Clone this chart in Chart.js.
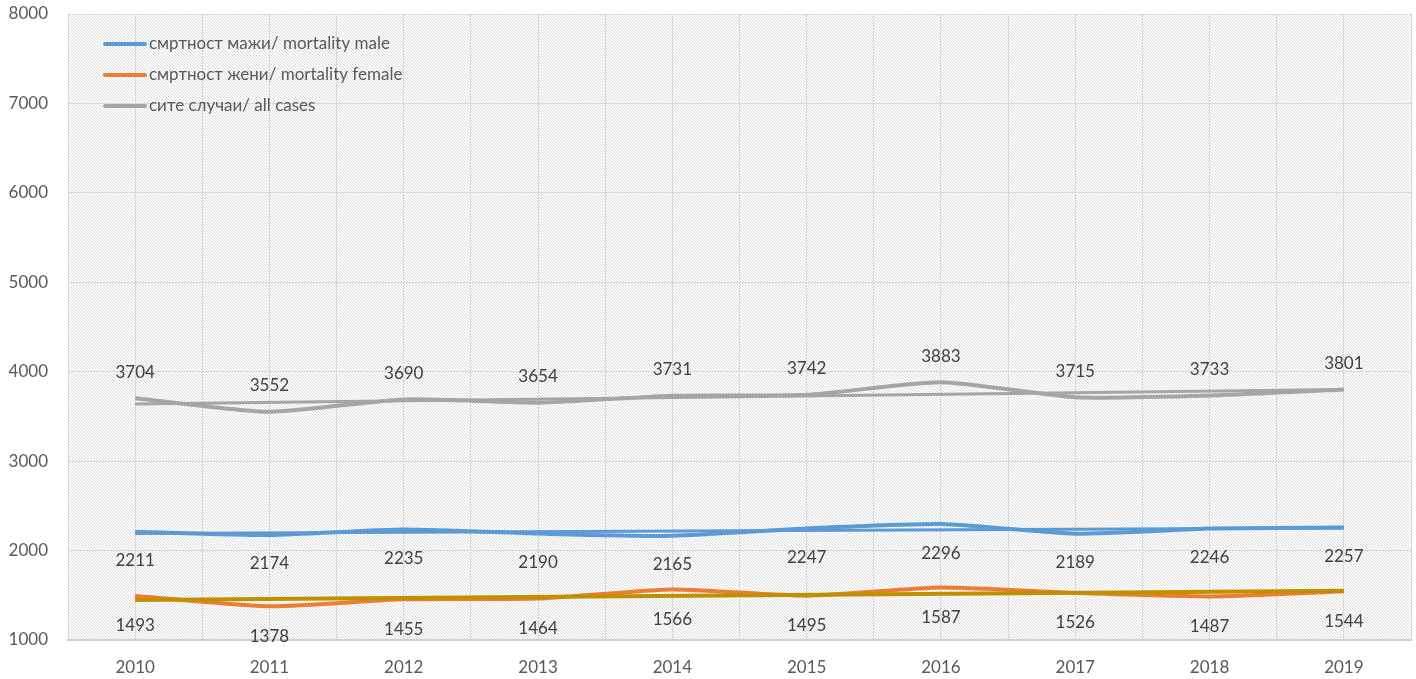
<!DOCTYPE html>
<html>
<head>
<meta charset="utf-8">
<script src="https://cdn.jsdelivr.net/npm/chart.js@4"></script>
<style>
html,body{margin:0;padding:0;background:#fff;}
canvas{display:block;}
</style>
</head>
<body>
<canvas id="c" width="1416" height="679"></canvas>
<script>
const years = [2010, 2011, 2012, 2013, 2014, 2015, 2016, 2017, 2018, 2019];
const male = [2211, 2174, 2235, 2190, 2165, 2247, 2296, 2189, 2246, 2257];
const female = [1493, 1378, 1455, 1464, 1566, 1495, 1587, 1526, 1487, 1544];
const allCases = [3704, 3552, 3690, 3654, 3731, 3742, 3883, 3715, 3733, 3801];
// linear trendlines: estimated values at first and last year
const maleTrend = [2191, 2251];
const femaleTrend = [1448, 1551];
const allTrend = [3640, 3801];
const yTicks = [1000, 2000, 3000, 4000, 5000, 6000, 7000, 8000];
const names = ['смртност мажи/ mortality male', 'смртност жени/ mortality female', 'сите случаи/ all cases'];

const pts = arr => arr.map((v, i) => ({x: years[i], y: v}));
const trendPts = t => [{x: years[0], y: t[0]}, {x: years[years.length - 1], y: t[1]}];

// hatched background pattern
function makePattern(ctx) {
  const p = document.createElement('canvas');
  p.width = 6; p.height = 6;
  const g = p.getContext('2d');
  g.fillStyle = '#ffffff';
  g.fillRect(0, 0, 6, 6);
  g.fillStyle = '#d8d8d8';
  for (let i = 0; i < 6; i++) {
    g.fillRect(i, i, 1, 1);
    g.fillRect(i, (i + 3) % 6, 1, 1);
  }
  return ctx.createPattern(p, 'repeat');
}

const bgPlugin = {
  id: 'bg',
  beforeDatasetsDraw(chart) {
    const {ctx, chartArea: a} = chart;
    ctx.save();
    ctx.fillStyle = makePattern(ctx);
    ctx.globalCompositeOperation = 'destination-over';
    ctx.fillRect(a.left, a.top, a.right - a.left, a.bottom - a.top);
    ctx.restore();
  }
};

const labelPlugin = {
  id: 'vlabels',
  afterDatasetsDraw(chart, args, opts) {
    const {ctx} = chart;
    ctx.save();
    ctx.font = '17px Lato, "Noto Sans", sans-serif';
    ctx.fillStyle = '#404040';
    ctx.textAlign = 'center';
    ctx.textBaseline = 'middle';
    opts.sets.forEach(s => {
      const meta = chart.getDatasetMeta(s.index);
      const data = chart.data.datasets[s.index].data;
      meta.data.forEach((el, i) => {
        ctx.fillText(String(data[i].y), el.x, el.y + s.offset);
      });
    });
    ctx.restore();
  }
};

const legendPlugin = {
  id: 'inlegend',
  afterDraw(chart, args, opts) {
    const {ctx, chartArea: a} = chart;
    ctx.save();
    ctx.font = '17px Lato, "Noto Sans", sans-serif';
    ctx.textBaseline = 'middle';
    opts.items.forEach((it, i) => {
      const y = a.top + 30 + i * 31;
      const x0 = a.left + 37;
      ctx.strokeStyle = it.color;
      ctx.lineWidth = 4;
      ctx.lineCap = 'round';
      ctx.beginPath();
      ctx.moveTo(x0, y);
      ctx.lineTo(x0 + 40, y);
      ctx.stroke();
      ctx.fillStyle = '#595959';
      ctx.fillText(it.text, x0 + 44, y);
    });
    ctx.restore();
  }
};

const blue = '#5B9BD5', orange = '#ED7D31', gray = '#A5A5A5';

new Chart(document.getElementById('c'), {
  type: 'line',
  data: {
    datasets: [
      {label: names[0] + ' trend', data: trendPts(maleTrend), borderColor: blue, borderWidth: 3, pointRadius: 0, tension: 0},
      {label: names[1] + ' trend', data: trendPts(femaleTrend), borderColor: '#BF9000', borderWidth: 4, pointRadius: 0, tension: 0},
      {label: names[2] + ' trend', data: trendPts(allTrend), borderColor: gray, borderWidth: 3, pointRadius: 0, tension: 0},
      {label: names[0], data: pts(male), borderColor: blue, borderWidth: 4, pointRadius: 0, tension: 0.2},
      {label: names[1], data: pts(female), borderColor: orange, borderWidth: 4, pointRadius: 0, tension: 0.2},
      {label: names[2], data: pts(allCases), borderColor: gray, borderWidth: 4, pointRadius: 0, tension: 0.2}
    ]
  },
  options: {
    responsive: false,
    animation: false,
    devicePixelRatio: 1,
    layout: {padding: {top: 0, right: 5, left: 0, bottom: 0}},
    plugins: {
      legend: {display: false},
      tooltip: {enabled: false},
      vlabels: {sets: [{index: 5, offset: -26}, {index: 3, offset: 29}, {index: 4, offset: 30}]},
      inlegend: {items: [{text: names[0], color: blue}, {text: names[1], color: orange}, {text: names[2], color: gray}]}
    },
    scales: {
      x: {
        type: 'linear',
        min: years[0] - 0.5,
        max: years[years.length - 1] + 0.5,
        afterBuildTicks: s => { const t = []; for (let i = 0; i <= years.length * 2; i++) t.push({value: years[0] - 0.5 + i * 0.5}); s.ticks = t; },
        afterFit: s => { s.height = 39; s.paddingLeft = 0; s.paddingRight = 0; },
        grid: {color: '#d9d9d9', lineWidth: 1, drawTicks: false},
        border: {color: '#d0d0d0', width: 2},
        ticks: {
          autoSkip: false, maxRotation: 0, padding: 17,
          color: '#595959', font: {size: 17, family: 'Lato, "Noto Sans", sans-serif'},
          callback: v => Number.isInteger(v) ? String(v) : ''
        }
      },
      y: {
        min: yTicks[0],
        max: yTicks[yTicks.length - 1],
        afterBuildTicks: s => { s.ticks = yTicks.map(v => ({value: v})); },
        afterFit: s => { s.width = 68; s.paddingTop = 14; },
        grid: {color: '#d9d9d9', lineWidth: 1, drawTicks: false},
        border: {display: false},
        ticks: {
          padding: 20,
          color: '#595959', font: {size: 17, family: 'Lato, "Noto Sans", sans-serif'},
          callback: v => String(v)
        }
      }
    }
  },
  plugins: [bgPlugin, labelPlugin, legendPlugin]
});
</script>
</body>
</html>
